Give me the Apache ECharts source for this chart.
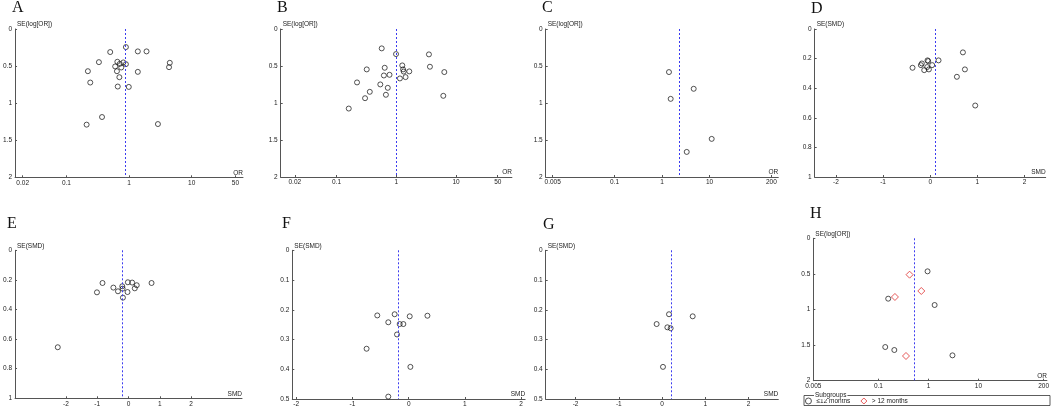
<!DOCTYPE html>
<html>
<head>
<meta charset="utf-8">
<script src="https://cdn.jsdelivr.net/npm/echarts@6/dist/echarts.min.js"></script>
<style>
html, body { margin: 0; padding: 0; background: #fff; }
#container { width: 1052px; height: 408px; }
</style>
</head>
<body>
<div id="container"></div>
<script>
var dom = document.getElementById('container');
var myChart = echarts.init(dom);

// A: OR vs SE(log[OR])
var aOR = [0.89, 0.50, 1.38, 1.90, 0.33, 0.65, 0.71, 0.81, 0.89, 0.60, 0.75, 0.64, 0.22, 1.38, 4.47, 4.35, 0.70, 0.24, 0.66, 0.99, 0.37, 0.21, 2.89];
var aSE = [0.244, 0.311, 0.302, 0.302, 0.447, 0.442, 0.47, 0.451, 0.474, 0.505, 0.519, 0.569, 0.569, 0.578, 0.456, 0.515, 0.65, 0.722, 0.776, 0.781, 1.187, 1.29, 1.282];
var aPooled = 0.88;
// B
var bOR = [0.57, 0.99, 3.52, 1.26, 3.66, 0.32, 0.64, 1.30, 1.33, 1.65, 6.37, 0.62, 0.77, 1.43, 1.15, 0.22, 0.54, 0.72, 0.36, 0.67, 0.30, 6.13, 0.16];
var bSE = [0.262, 0.339, 0.343, 0.492, 0.51, 0.546, 0.524, 0.546, 0.575, 0.573, 0.582, 0.628, 0.619, 0.65, 0.668, 0.722, 0.749, 0.795, 0.849, 0.889, 0.935, 0.903, 1.075];
var bPooled = 1.0;
// C
var cOR = [1.40, 4.64, 1.52, 11.1, 3.31];
var cSE = [0.582, 0.808, 0.944, 1.485, 1.661];
var cPooled = 2.32;
// D: SMD vs SE(SMD)
var dSMD = [0.694, -0.057, -0.042, 0.177, -0.177, -0.198, 0.042, -0.064, -0.375, -0.127, -0.028, 0.736, 0.566, 0.955];
var dSE = [0.158, 0.212, 0.217, 0.212, 0.233, 0.244, 0.244, 0.257, 0.262, 0.278, 0.273, 0.273, 0.323, 0.517];
var dPooled = 0.113;
// E
var eSMD = [-0.832, -1.01, -0.484, -0.337, -0.2, -0.189, -0.179, -0.021, 0.116, 0.263, 0.2, -0.032, 0.737, -2.263];
var eSE = [0.221, 0.284, 0.252, 0.277, 0.243, 0.259, 0.32, 0.216, 0.218, 0.236, 0.257, 0.282, 0.221, 0.655];
var ePooled = -0.2;
// F
var fSMD = [-0.559, -0.25, 0.018, 0.333, -0.363, -0.16, -0.095, -0.208, -0.749, 0.03, -0.363];
var fSE = [0.219, 0.215, 0.222, 0.22, 0.242, 0.248, 0.248, 0.283, 0.331, 0.392, 0.492];
var fPooled = -0.19;
// G
var gSMD = [0.162, 0.71, -0.124, 0.124, 0.2, 0.023];
var gSE = [0.215, 0.222, 0.248, 0.259, 0.262, 0.392];
var gPooled = 0.216;
// H: two subgroups
var hLowOR = [0.96, 0.157, 1.33, 0.137, 0.208, 3.02];
var hLowSE = [0.464, 0.848, 0.937, 1.527, 1.569, 1.644];
var hHighOR = [0.42, 0.72, 0.214, 0.356];
var hHighSE = [0.511, 0.74, 0.824, 1.653];
var hPooled = 0.53;

// tick labels
var orTicksAB = [0.02, 0.1, 1, 10, 50];
var orTicksCH = [0.005, 0.1, 1, 10, 200];
var smdTicks = [-2, -1, 0, 1, 2];
var subgroupNames = ['≤12 months', '> 12 months'];

var font = 'Liberation Sans';
var axisColor = '#555';

function zip(xs, ys) {
    return xs.map(function (v, i) { return [v, ys[i]]; });
}

var panels = [
    { tag: 'A', x: aOR, y: aSE, pooled: aPooled, log: true, xMin: 0.0151, xMax: 66, xTicks: orTicksAB, yMax: 2, yStep: 0.5, yName: 'SE(log[OR])', xName: 'OR',
      grid: { left: 11, top: 29, width: 232, height: 148.3 }, title: [12, 0] },
    { tag: 'B', x: bOR, y: bSE, pooled: bPooled, log: true, xMin: 0.0116, xMax: 86.3, xTicks: orTicksAB, yMax: 2, yStep: 0.5, yName: 'SE(log[OR])', xName: 'OR',
      grid: { left: 280.7, top: 29, width: 231.2, height: 148 }, title: [277, 0] },
    { tag: 'C', x: cOR, y: cSE, pooled: cPooled, log: true, xMin: 0.00356, xMax: 280, xTicks: orTicksCH, yMax: 2, yStep: 0.5, yName: 'SE(log[OR])', xName: 'OR',
      grid: { left: 545.7, top: 29, width: 232.6, height: 148 }, title: [542, 0] },
    { tag: 'D', x: dSMD, y: dSE, pooled: dPooled, log: false, xMin: -2.45, xMax: 2.45, xTicks: smdTicks, yMax: 1, yStep: 0.2, yName: 'SE(SMD)', xName: 'SMD',
      grid: { left: 814.7, top: 29, width: 231, height: 148 }, title: [811, 1] },
    { tag: 'E', x: eSMD, y: eSE, pooled: ePooled, log: false, xMin: -3.63, xMax: 3.63, xTicks: smdTicks, yMax: 1, yStep: 0.2, yName: 'SE(SMD)', xName: 'SMD',
      grid: { left: 12, top: 250.3, width: 230, height: 148 }, title: [7, 216] },
    { tag: 'F', x: fSMD, y: fSE, pooled: fPooled, log: false, xMin: -2.07, xMax: 2.07, xTicks: smdTicks, yMax: 0.5, yStep: 0.1, yName: 'SE(SMD)', xName: 'SMD',
      grid: { left: 292.3, top: 250.3, width: 232.8, height: 148.7 }, title: [282, 216] },
    { tag: 'G', x: gSMD, y: gSE, pooled: gPooled, log: false, xMin: -2.69, xMax: 2.69, xTicks: smdTicks, yMax: 0.5, yStep: 0.1, yName: 'SE(SMD)', xName: 'SMD',
      grid: { left: 545.7, top: 250.3, width: 232.6, height: 148.7 }, title: [543, 217] },
    { tag: 'H', x: hLowOR, y: hLowSE, pooled: hPooled, log: true, xMin: 0.005, xMax: 233, xTicks: orTicksCH, yMax: 2, yStep: 0.5, yName: 'SE(log[OR])', xName: 'OR',
      grid: { left: 813.3, top: 238.3, width: 236.7, height: 142.4 }, title: [810, 206] }
];

function fmt(v) {
    return String(+Number(v).toPrecision(4));
}

var grids = [], xAxes = [], yAxes = [], series = [], titles = [];
var labelText = { fontSize: 6.5, color: '#222', fontFamily: font };

panels.forEach(function (p, i) {
    grids.push(p.grid);
    titles.push({
        text: p.tag, left: p.title[0], top: p.title[1], padding: 0,
        textStyle: { fontFamily: 'Liberation Serif', fontSize: 16, fontWeight: 'normal', color: '#111' }
    });
    xAxes.push({
        gridIndex: i, type: p.log ? 'log' : 'value', logBase: 10,
        min: p.xMin, max: p.xMax,
        name: p.xName, nameLocation: 'end', nameGap: 0,
        nameTextStyle: { fontSize: 6.5, color: '#222', fontFamily: font, align: 'right', verticalAlign: 'bottom', padding: [0, 0, 1, 0] },
        axisLine: { onZero: false, lineStyle: { color: axisColor, width: 1 } },
        axisTick: { inside: true, length: 2, customValues: p.xTicks, lineStyle: { color: axisColor } },
        axisLabel: Object.assign({ margin: 2, customValues: p.xTicks, formatter: fmt }, labelText),
        splitLine: { show: false }
    });
    yAxes.push({
        gridIndex: i, type: 'value', inverse: true,
        min: 0, max: p.yMax, interval: p.yStep,
        name: p.yName, nameLocation: 'start', nameGap: 1,
        nameTextStyle: { fontSize: 6.5, color: '#222', fontFamily: font, align: 'left', verticalAlign: 'bottom', padding: [0, 0, 0, 2] },
        axisLine: { onZero: false, lineStyle: { color: axisColor, width: 1 } },
        axisTick: { inside: true, length: 2, lineStyle: { color: axisColor } },
        axisLabel: Object.assign({ margin: 3, formatter: fmt }, labelText),
        splitLine: { show: false }
    });
    series.push({
        type: 'scatter', name: p.tag === 'H' ? subgroupNames[0] : p.tag,
        xAxisIndex: i, yAxisIndex: i,
        data: zip(p.x, p.y),
        symbol: 'circle', symbolSize: 5,
        itemStyle: { color: 'rgba(0,0,0,0)', borderColor: '#111', borderWidth: 0.9 },
        markLine: {
            silent: true, symbol: 'none', label: { show: false },
            lineStyle: { color: '#3b3bf0', type: [2, 2], width: 1 },
            data: [{ xAxis: p.pooled }]
        },
        z: 3
    });
});

// H: second subgroup
series.push({
    type: 'scatter', name: subgroupNames[1],
    xAxisIndex: 7, yAxisIndex: 7,
    data: zip(hHighOR, hHighSE),
    symbol: 'diamond', symbolSize: 7,
    itemStyle: { color: 'rgba(0,0,0,0)', borderColor: '#e03030', borderWidth: 1 },
    z: 4
});

option = {
    animation: false,
    backgroundColor: '#fff',
    title: titles,
    grid: grids,
    xAxis: xAxes,
    yAxis: yAxes,
    series: series,
    legend: {
        left: 805, top: 397.5, padding: 0,
        itemWidth: 6, itemHeight: 6, itemGap: 10,
        textStyle: { fontSize: 6.5, color: '#222', fontFamily: font },
        data: [
            { name: subgroupNames[0], icon: 'circle', itemStyle: { color: 'rgba(0,0,0,0)', borderColor: '#111', borderWidth: 0.9 } },
            { name: subgroupNames[1], icon: 'diamond', itemStyle: { color: 'rgba(0,0,0,0)', borderColor: '#e03030', borderWidth: 1 } }
        ]
    },
    graphic: [
        { type: 'rect', z: 10, shape: { x: 804, y: 395.5, width: 246, height: 10 }, style: { fill: 'none', stroke: '#333', lineWidth: 0.8 } },
        { type: 'text', z: 11, x: 814, y: 395.5, style: { text: 'Subgroups', fontSize: 6.5, fontFamily: font, fill: '#222', verticalAlign: 'middle', backgroundColor: '#fff', padding: [0, 1] } }
    ]
};
myChart.setOption(option, true);
</script>
</body>
</html>
